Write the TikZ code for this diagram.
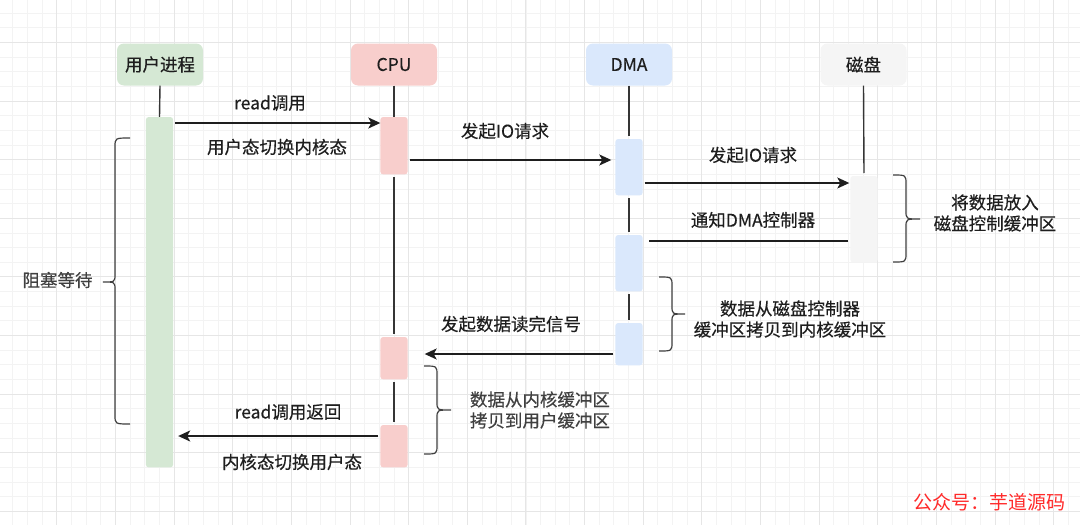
\documentclass[tikz,border=0pt]{standalone}
\usepackage{fontspec}
\setmainfont{Noto Sans CJK SC}[FakeBold=0.35]
\newfontfamily\wmfont{Noto Sans CJK SC}
\usetikzlibrary{arrows.meta,calc}
\definecolor{gfill}{HTML}{D5E8D4}
\definecolor{rfill}{HTML}{F8CECC}
\definecolor{bfill}{HTML}{DAE8FC}
\definecolor{kfill}{HTML}{F5F5F5}
\definecolor{gridminor}{HTML}{F3F3F3}
\definecolor{gridmajor}{HTML}{E6E6E6}
\definecolor{ink}{HTML}{1E1E1E}
\definecolor{wmred}{HTML}{FF2A2A}
\tikzset{
  hdr/.style={rectangle, rounded corners=7pt, minimum width=86pt, minimum height=42pt, inner sep=0pt, text=ink},
  actbox/.style={rectangle, rounded corners=3pt, minimum width=27pt, inner sep=0pt, anchor=north},
  lifeline/.style={draw=ink!90, line width=1.4pt},
  arr/.style={draw=ink, line width=1.4pt, -{Stealth[length=12pt,width=11pt,inset=3pt]}},
  plainline/.style={draw=ink, line width=1.4pt},
  lbl/.style={inner sep=0pt, text=ink, align=center},
  bracestyle/.style={draw=ink!85, line width=1.2pt},
}
\begin{document}
\begin{tikzpicture}[x=1pt,y=-1pt,font=\fontsize{17.5}{21}\selectfont]
\useasboundingbox (0,0) rectangle (1080,525);
\fill[white] (0,0) rectangle (1080,525);
% grid
\foreach \i in {0,...,72} {\draw[gridminor, line width=0.8pt] ({12.71+\i*14.6625},0) -- ({12.71+\i*14.6625},525);}
\foreach \i in {0,...,35} {\draw[gridminor, line width=0.8pt] (0,{12.97+\i*14.6625}) -- (1080,{12.97+\i*14.6625});}
\foreach \i in {0,...,18} {\draw[gridmajor, line width=0.9pt] ({56.7+(\i-1)*58.65},0) -- ({56.7+(\i-1)*58.65},525);}
\foreach \i in {0,...,8} {\draw[gridmajor, line width=0.9pt] (0,{42.3+\i*58.65}) -- (1080,{42.3+\i*58.65});}

% headers
\node[hdr, fill=gfill] (hU) at (160,64.5) {用户进程};
\node[hdr, fill=rfill] (hC) at (394,64.5) {CPU};
\node[hdr, fill=bfill] (hD) at (629,64.5) {DMA};
\node[hdr, fill=kfill] (hK) at (863.5,64.5) {磁盘};

% activation boxes geometry
\path node[actbox, minimum height=350pt] (gA) at (159.5,117) {}
      node[actbox, minimum height=57pt] (c1) at (394,117) {}
      node[actbox, minimum height=42pt] (c2) at (394,337) {}
      node[actbox, minimum height=42pt] (c3) at (394,425) {}
      node[actbox, minimum height=56pt] (d1) at (629,139) {}
      node[actbox, minimum height=56pt] (d2) at (629,235) {}
      node[actbox, minimum height=42pt] (d3) at (629,323) {}
      node[actbox, minimum height=86pt] (k1) at (864,176) {};

% lifelines
\draw[lifeline] (hU.south) -- (gA.north);
\draw[lifeline] (hC.south) -- (c1.north);
\draw[lifeline] ([yshift=-3pt]c1.south) -- ([yshift=3pt]c2.north);
\draw[lifeline] ([yshift=-3pt]c2.south) -- ([yshift=3pt]c3.north);
\draw[lifeline] (hD.south) -- ([yshift=3pt]d1.north);
\draw[lifeline] ([yshift=-3pt]d1.south) -- ([yshift=3pt]d2.north);
\draw[lifeline] ([yshift=-3pt]d2.south) -- ([yshift=3pt]d3.north);
\draw[lifeline] (hK.south) -- ([yshift=3pt]k1.north);

% visible boxes
\fill[gfill, rounded corners=3pt] (gA.north west) rectangle (gA.south east);
\fill[rfill, rounded corners=3pt] (c1.north west) rectangle (c1.south east);
\fill[rfill, rounded corners=3pt] (c2.north west) rectangle (c2.south east);
\fill[rfill, rounded corners=3pt] (c3.north west) rectangle (c3.south east);
\fill[bfill, rounded corners=3pt] (d1.north west) rectangle (d1.south east);
\fill[bfill, rounded corners=3pt] (d2.north west) rectangle (d2.south east);
\fill[bfill, rounded corners=3pt] (d3.north west) rectangle (d3.south east);
\fill[kfill, rounded corners=3pt] (k1.north west) rectangle (k1.south east);

% messages
\draw[arr] ([xshift=2pt]gA.east |- 0,123) -- (c1.west |- 0,123);
\draw[arr] ([xshift=2pt]c1.east |- 0,160) -- ([xshift=-4pt]d1.west |- 0,160);
\draw[arr] ([xshift=2pt]d1.east |- 0,183) -- ([xshift=-1pt]k1.west |- 0,183);
\draw[plainline] ([xshift=-2pt]k1.west |- 0,241) -- ([xshift=6pt]d2.east |- 0,241);
\draw[arr] ([xshift=-2pt]d3.west |- 0,354) -- ([xshift=17pt]c2.east |- 0,354);
\draw[arr] ([xshift=-2pt]c3.west |- 0,436) -- ([xshift=5pt]gA.east |- 0,436);

% labels
\node[lbl] (t1) at (270,103) {read调用};
\node[lbl] (t2) at (277,147) {用户态切换内核态};
\node[lbl] (t3) at (505,131) {发起IO请求};
\node[lbl] (t4) at (753,155) {发起IO请求};
\node[lbl] (t5) at (753,220) {通知DMA控制器};
\node[lbl] (t6) at (511,324) {发起数据读完信号};
\node[lbl] (t7) at (288,412) {read调用返回};
\node[lbl] (t8) at (292,462) {内核态切换用户态};
\node[lbl, text=ink!85] (t9) at (57.5,280) {阻塞等待};
\node[lbl] (t10) at (995,213) {将数据放入\\磁盘控制缓冲区};
\node[lbl] (t11) at (790,319) {数据从磁盘控制器\\缓冲区拷贝到内核缓冲区};
\node[lbl, text=ink!85] (t12) at (540,410) {数据从内核缓冲区\\拷贝到用户缓冲区};

% braces
\draw[bracestyle] (130,138) .. controls (115,138) .. (115,147) -- (115,274) .. controls (115,282) .. (103,282) .. controls (115,282) .. (115,290) -- (115,415) .. controls (115,424) .. (130,424);
\draw[bracestyle] (893,175) .. controls (906,175) .. (906,184) -- (906,211) .. controls (906,219) .. (920,219) .. controls (906,219) .. (906,227) -- (906,253) .. controls (906,262) .. (893,262);
\draw[bracestyle] (659,277) .. controls (672,277) .. (672,286) -- (672,306) .. controls (672,314) .. (685,314) .. controls (672,314) .. (672,322) -- (672,342) .. controls (672,351) .. (659,351);
\draw[bracestyle] (424,366) .. controls (437,366) .. (437,375) -- (437,402) .. controls (437,410) .. (451,410) .. controls (437,410) .. (437,418) -- (437,445) .. controls (437,454) .. (424,454);

% watermark
\node[inner sep=0pt, text=wmred, font=\wmfont\fontsize{19}{22}\selectfont] (wm) at (989.5,502) {公众号：芋道源码};
\end{tikzpicture}
\end{document}
